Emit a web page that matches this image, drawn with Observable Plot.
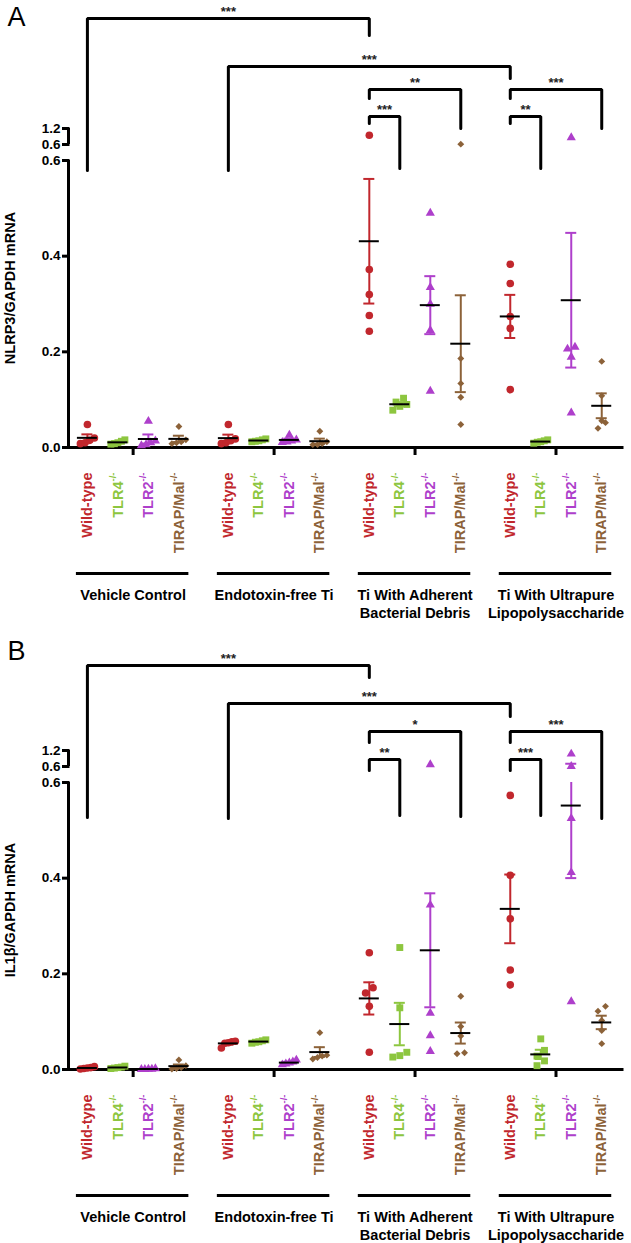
<!DOCTYPE html>
<html><head><meta charset="utf-8">
<script src="https://cdn.jsdelivr.net/npm/d3@7"></script>
<script src="https://cdn.jsdelivr.net/npm/@observablehq/plot@0.6"></script>
<style>
html,body{margin:0;padding:0;background:#fff;}
#chart svg{display:block;}
</style></head><body><div id="chart"></div>
<script>
// ---------- categories ----------
const groups = ["Vehicle Control", "Endotoxin-free Ti", "Ti With Adherent\nBacterial Debris", "Ti With Ultrapure\nLipopolysaccharide"];
const strains = ["Wild-type", "TLR4", "TLR2", "TIRAP/Mal"];
const strainSup = ["", "-/-", "-/-", "-/-"];
const strainColors = ["#C1272D", "#8DC63F", "#AE3FCB", "#8C6239"];

// ---------- Panel A: NLRP3/GAPDH mRNA (per group: [WT, TLR4, TLR2, TIRAP]) ----------
const nlrp3Vehicle   = [[0.048, 0.020, 0.015, 0.010, 0.008], [0.016, 0.013, 0.010, 0.008, 0.007], [0.055, 0.014, 0.010, 0.006, 0.004], [0.044, 0.016, 0.012, 0.010, 0.008]];
const nlrp3Endotoxin = [[0.048, 0.018, 0.014, 0.010, 0.008], [0.018, 0.016, 0.014, 0.013, 0.012], [0.026, 0.016, 0.014, 0.012, 0.011], [0.034, 0.012, 0.008, 0.006, 0.006]];
const nlrp3Adherent  = [[0.945, 0.372, 0.320, 0.276, 0.243], [0.103, 0.095, 0.090, 0.086, 0.078], [0.490, 0.335, 0.300, 0.245, 0.118], [0.612, 0.186, 0.134, 0.105, 0.048]];
const nlrp3Ultrapure = [[0.383, 0.343, 0.274, 0.249, 0.121], [0.016, 0.014, 0.012, 0.011, 0.009], [0.862, 0.210, 0.206, 0.189, 0.0725], [0.180, 0.108, 0.056, 0.052, 0.040]];

// ---------- Panel B: IL1β/GAPDH mRNA ----------
const il1bVehicle   = [[0.006, 0.004, 0.003, 0.002, 0.001], [0.007, 0.005, 0.004, 0.003, 0.002], [0.002, 0.001, 0.001, 0.0005, 0.0005], [0.020, 0.008, 0.004, 0.002, 0.001]];
const il1bEndotoxin = [[0.059, 0.058, 0.056, 0.055, 0.045], [0.062, 0.060, 0.058, 0.057, 0.055], [0.020, 0.016, 0.014, 0.012, 0.010], [0.077, 0.030, 0.028, 0.025, 0.022]];
const il1bAdherent  = [[0.244, 0.171, 0.160, 0.132, 0.036], [0.255, 0.129, 0.036, 0.029, 0.026], [0.675, 0.344, 0.118, 0.071, 0.038], [0.153, 0.090, 0.070, 0.035, 0.033]];
const il1bUltrapure = [[0.573, 0.406, 0.315, 0.208, 0.177], [0.064, 0.040, 0.028, 0.018, 0.008], [1.070, 0.610, 0.525, 0.412, 0.142], [0.132, 0.122, 0.1025, 0.0815, 0.054]];

// ---------- axis tick labels ----------
const yTickValues = [0, 0.2, 0.4, 0.6];
const yBreakTickValues = [0.6, 1.2];

// ---------- significance brackets (from/to = [group, strain]; levels in axis units) ----------
const nlrp3Brackets = [
  {from: [0, 0], to: [2, 0], level: 0.8969, legFrom: 0.5791, legTo: 0.8614, stars: "***"},
  {from: [1, 0], to: [3, 0], level: 0.7966, legFrom: 0.5791, legTo: 0.7715, stars: "***"},
  {from: [2, 0], to: [2, 3], level: 0.7485, legFrom: 0.7297, legTo: 0.6669, stars: "**"},
  {from: [3, 0], to: [3, 3], level: 0.7485, legFrom: 0.7297, legTo: 0.6669, stars: "***"},
  {from: [2, 0], to: [2, 1], level: 0.6920, legFrom: 0.6774, legTo: 0.5833, stars: "***"},
  {from: [3, 0], to: [3, 1], level: 0.6920, legFrom: 0.6774, legTo: 0.5833, stars: "**"}
];
const il1bBrackets = [
  {from: [0, 0], to: [2, 0], level: 0.8447, legFrom: 0.5269, legTo: 0.8196, stars: "***"},
  {from: [1, 0], to: [3, 0], level: 0.7652, legFrom: 0.5248, legTo: 0.7380, stars: "***"},
  {from: [2, 0], to: [2, 3], level: 0.7067, legFrom: 0.6837, legTo: 0.5290, stars: "*"},
  {from: [3, 0], to: [3, 3], level: 0.7067, legFrom: 0.6837, legTo: 0.5248, stars: "***"},
  {from: [2, 0], to: [2, 1], level: 0.6481, legFrom: 0.6251, legTo: 0.5310, stars: "**"},
  {from: [3, 0], to: [3, 1], level: 0.6481, legFrom: 0.6251, legTo: 0.5310, stars: "***"}
];

// ---------- layout ----------
const W = 631;
const FONT = "'Liberation Sans', Arial, Helvetica, sans-serif";
const BRK = 0.6, TOP = 1.2;
const GROUP_PITCH = 4.623;
const X_DOMAIN = [-0.62, 17.55];
const xOf = (g, s) => g * GROUP_PITCH + s;
const diamondSym = d3.symbolDiamond2 ? "diamond2" : "diamond";
const strainSymbols = ["circle", "square", "triangle", diamondSym];
const strainR = [3.8, 3.9, 3.4, 3.1];

function makePanel(cfg) {
  const {height, letter, letterPx, yTitle, values, brackets} = cfg;
  const mTop = 160, mLeft = 68, mRight = 9, axisPx = 447;
  const mBottom = height - axisPx;
  const pxPerUnit = (axisPx - mTop) / BRK;
  const pxPerSlot = (W - mLeft - mRight) / (X_DOMAIN[1] - X_DOMAIN[0]);
  const du = px => px / pxPerUnit;
  const sx = px => px / pxPerSlot;
  const upper = v => BRK + du(16) + (v - BRK) * du(16) / (TOP - BRK);
  const brk = v => v <= BRK ? v : upper(v);
  const XA = X_DOMAIN[0];

  // points (GraphPad-like horizontal spreading of overlapping points) + stats
  const pts = [], stats = [];
  values.forEach((grp, g) => grp.forEach((vals, s) => {
    const items = vals.map(v => ({v, py: brk(v) * pxPerUnit})).sort((a, b) => a.py - b.py);
    const rows = []; let row = [];
    for (const it of items) {
      if (row.length && it.py - row[0].py > 7) { rows.push(row); row = []; }
      row.push(it);
    }
    if (row.length) rows.push(row);
    for (const r of rows) {
      const n = r.length;
      const sp = n > 1 ? Math.min(7.5, 14 / (n - 1)) : 0;
      r.forEach((it, k) => pts.push({g, s, v: it.v, x: xOf(g, s) + sx((k - (n - 1) / 2) * sp), y: brk(it.v)}));
    }
    const m = d3.mean(vals), se = d3.deviation(vals) / Math.sqrt(vals.length);
    stats.push({g, s, x: xOf(g, s), mean: m, lo: m - se, hi: m + se});
  }));
  const segs = [];
  for (const st of stats) {
    if (st.lo < BRK) segs.push({s: st.s, x: st.x, y1: st.lo, y2: Math.min(st.hi, BRK)});
    if (st.hi > BRK) segs.push({s: st.s, x: st.x, y1: upper(Math.max(st.lo, BRK)), y2: upper(st.hi)});
  }
  const caps = stats.flatMap(st => [{s: st.s, x: st.x, y: brk(st.lo)}, {s: st.s, x: st.x, y: brk(st.hi)}]);

  const bracketPts = brackets.flatMap((b, i) => {
    const xa = xOf(...b.from), xb = xOf(...b.to);
    return [{id: i, x: xa, y: b.legFrom}, {id: i, x: xa, y: b.level}, {id: i, x: xb, y: b.level}, {id: i, x: xb, y: b.legTo}];
  });

  const fmt = d3.format(".1f");
  const yTicks = yTickValues.map(v => ({y: v, label: fmt(v)}))
    .concat(yBreakTickValues.map(v => ({y: upper(v), label: fmt(v)})));
  const gIdx = groups.map((_, g) => g);
  const bold = {fontFamily: FONT, fontWeight: "bold"};

  const marks = [
    Plot.line(bracketPts, {x: "x", y: "y", z: "id", stroke: "#000", strokeWidth: 3, strokeLinejoin: "miter"}),
    Plot.text(brackets, {x: b => (xOf(...b.from) + xOf(...b.to)) / 2, y: "level", text: "stars", dy: -7, fontSize: 13, fill: "#222", lineAnchor: "middle", ...bold}),
    Plot.ruleX([XA], {y1: 0, y2: BRK, stroke: "#000", strokeWidth: 3}),
    Plot.ruleX([XA], {y1: upper(BRK), y2: upper(TOP), stroke: "#000", strokeWidth: 3}),
    Plot.ruleY([0], {stroke: "#000", strokeWidth: 3, strokeLinecap: "square"}),
    Plot.ruleY(yTicks, {y: "y", x1: XA - sx(6), x2: XA + sx(1.5), stroke: "#000", strokeWidth: 3}),
    Plot.text(yTicks, {x: XA, y: "y", text: "label", dx: -8, textAnchor: "end", lineAnchor: "middle", fontSize: 13.5, fill: "#000", ...bold}),
    Plot.ruleX(gIdx, {x: g => xOf(g, 1.5), y1: 0, y2: -du(8), stroke: "#000", strokeWidth: 3}),
    Plot.text([yTitle], {x: XA, y: upper(TOP) / 2, dx: -58, rotate: -90, textAnchor: "middle", lineAnchor: "middle", fontSize: 14.5, fill: "#000", ...bold}),
    Plot.text([letter], {x: XA, y: (axisPx - letterPx) / pxPerUnit, dx: -52, textAnchor: "middle", lineAnchor: "middle", fontSize: 27, fontFamily: FONT, fill: "#000"}),
    Plot.ruleY(gIdx, {y: 0, x1: g => xOf(g, 0) - sx(11), x2: g => xOf(g, 3) + sx(10), dy: 126, stroke: "#000", strokeWidth: 3}),
    Plot.text(gIdx, {x: g => xOf(g, 1.5), y: 0, text: g => groups[g], dy: 140, textAnchor: "middle", lineAnchor: "top", lineHeight: 1.22, fontSize: 14.5, fill: "#000", ...bold})
  ];

  strains.forEach((name, s) => {
    const col = strainColors[s];
    marks.push(Plot.dot(pts.filter(d => d.s === s), {x: "x", y: "y", symbol: strainSymbols[s], r: strainR[s], fill: col, stroke: "none"}));
  });
  strains.forEach((name, s) => {
    const col = strainColors[s];
    marks.push(Plot.ruleX(segs.filter(d => d.s === s), {x: "x", y1: "y1", y2: "y2", stroke: col, strokeWidth: 2}));
    marks.push(Plot.ruleY(caps.filter(d => d.s === s), {y: "y", x1: d => d.x - sx(5.5), x2: d => d.x + sx(5.5), stroke: col, strokeWidth: 2}));
  });
  marks.push(Plot.ruleY(stats, {y: d => brk(d.mean), x1: d => d.x - sx(10), x2: d => d.x + sx(10), stroke: "#000", strokeWidth: 2}));

  strains.forEach((name, s) => {
    const col = strainColors[s];
    const hasSup = strainSup[s] !== "";
    marks.push(Plot.text(gIdx, {x: g => xOf(g, s), y: 0, text: () => name, rotate: -90, textAnchor: "end", lineAnchor: "middle", dy: hasSup ? 34 : 25, fontSize: 14.5, fill: col, ...bold}));
    if (hasSup) marks.push(Plot.text(gIdx, {x: g => xOf(g, s), y: 0, text: () => strainSup[s], rotate: -90, textAnchor: "end", lineAnchor: "middle", dy: 25, dx: -5, fontSize: 9.5, fill: col, ...bold}));
  });

  return Plot.plot({
    width: W, height,
    marginTop: mTop, marginBottom: mBottom, marginLeft: mLeft, marginRight: mRight,
    x: {domain: X_DOMAIN, axis: null},
    y: {domain: [0, BRK], axis: null},
    style: {fontFamily: FONT, background: "white", overflow: "visible"},
    marks
  });
}

const root = document.getElementById("chart");
root.appendChild(makePanel({
  height: 622, letter: "A", letterPx: 17, yTitle: "NLRP3/GAPDH mRNA",
  values: [nlrp3Vehicle, nlrp3Endotoxin, nlrp3Adherent, nlrp3Ultrapure], brackets: nlrp3Brackets
}));
root.appendChild(makePanel({
  height: 621, letter: "B", letterPx: 29, yTitle: "IL1β/GAPDH mRNA",
  values: [il1bVehicle, il1bEndotoxin, il1bAdherent, il1bUltrapure], brackets: il1bBrackets
}));
</script>
</body></html>
